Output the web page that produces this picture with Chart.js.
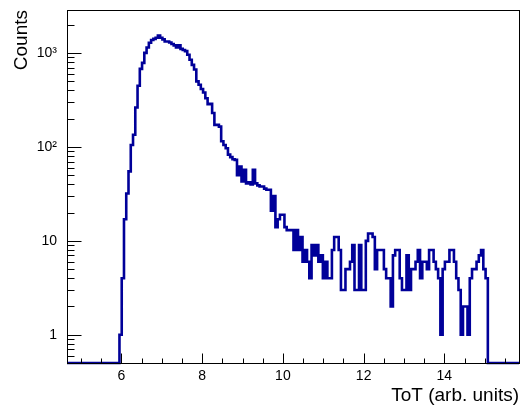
<!DOCTYPE html>
<html>
<head>
<meta charset="utf-8">
<script src="https://cdn.jsdelivr.net/npm/chart.js@4"></script>
<style>
    body { margin: 0; background: #fff; }
    #wrap { width: 526px; height: 408px; }
</style>
</head>
<body>
<div id="wrap"><canvas id="chart"></canvas></div>
<script>

// histogram binning (ToT, arb. units)
let binStart = 5.95
let binWidth = 0.056

// counts per bin
let counts = [
    1, 4, 17, 32, 55, 105, 135, 263, 450, 680,
    787, 1007, 1150, 1290, 1380, 1420, 1460, 1540, 1460, 1400,
    1330, 1330, 1300, 1250, 1210, 1150, 1210, 1110, 1080, 1050,
    960, 850, 750, 670, 500, 460, 415, 380, 330, 285,
    288, 230, 172, 172, 165, 115, 105, 97, 83, 78,
    74, 73, 50, 62, 43, 57, 41, 42, 40, 57,
    41, 39, 38, 38, 36, 35, 35, 21, 30, 14,
    17, 19, 19, 14, 13, 13, 13, 8, 13, 8,
    11, 6, 8, 6, 4, 9, 7, 9, 6, 7,
    4, 6, 4, 4, 8, 11, 11, 8, 3, 3,
    5, 5, 6, 9, 3, 3, 9, 3, 3, 10,
    12, 12, 11, 5, 8, 8, 8, 5, 4, 4,
    2, 7,
    8, 8, 4, 3, 3, 7, 3, 5, 5, 6,
    8, 4, 6, 6, 5, 8, 8, 6, 5, 4,
    1, 5, 6, 6, 8, 8, 6, 4, 3, 1,
    2, 2, 1, 4, 5, 5, 6, 7, 8, 5,
    4
]

let xRange = [4.65, 15.85]
let yRange = [0.5, 2880]

let xTicks = [6, 8, 10, 12, 14]
let xTickLabels = ['6', '8', '10', '12', '14']
let yTicks = [1, 10, 100, 1000]
let yTickLabels = ['1', '10', '10²', '10³']

let xTitle = 'ToT (arb. units)'
let yTitle = 'Counts'

let lineColor = '#000099'
let fontFamily = "'Liberation Sans', Arial, sans-serif"


// outline like ROOT: empty bins sit on the bottom of the frame
let pts = [{ x: xRange[0], y: yRange[0] }]
counts.forEach((c, i) => {
    pts.push({ x: binStart + i * binWidth, y: c > 0 ? c : yRange[0] })
})
pts.push({ x: binStart + counts.length * binWidth, y: yRange[0] })
pts.push({ x: xRange[1], y: yRange[0] })


// frame + inward ticks (major and minor)
const rootFrame = {
    id: 'rootFrame',
    afterDatasetsDraw(chart) {
        const { ctx, chartArea: a, scales } = chart
        const sx = scales.x, sy = scales.y
        const bottom = Math.round(a.bottom) + 0.5
        const left = Math.round(a.left) + 0.5

        ctx.save()
        ctx.strokeStyle = '#000'
        ctx.lineWidth = 1
        ctx.beginPath()

        // x ticks every 0.5, major every 2
        for (let k = Math.ceil(xRange[0] * 2); k <= xRange[1] * 2; k++) {
            let v = k / 2
            let px = Math.round(sx.getPixelForValue(v)) + 0.5
            let len = (k % 4 === 0) ? 10 : 5
            ctx.moveTo(px, bottom)
            ctx.lineTo(px, bottom - len)
        }

        // y ticks: decades major, 2..9 minor
        for (let d = -1; d <= 3; d++) {
            for (let m = 1; m <= 9; m++) {
                let v = m * Math.pow(10, d)
                if (v < yRange[0] || v > yRange[1]) continue
                let py = Math.round(sy.getPixelForValue(v)) + 0.5
                let len = (m === 1) ? 14 : 7
                ctx.moveTo(left, py)
                ctx.lineTo(left + len, py)
            }
        }
        ctx.stroke()

        ctx.strokeRect(left, Math.round(a.top) + 0.5,
            Math.round(a.right) - Math.round(a.left), Math.round(a.bottom) - Math.round(a.top))
        ctx.restore()
    }
}


const ctx = document.getElementById('chart').getContext('2d')
const histChart = new Chart(ctx, {
    type: 'line',
    data: {
        datasets: [{
            data: pts,
            stepped: true,
            borderColor: lineColor,
            borderWidth: 2.6,
            borderJoinStyle: 'miter',
            pointRadius: 0,
            fill: false,
            clip: false
        }]
    },
    options: {
        responsive: true,
        maintainAspectRatio: false,
        animation: false,
        layout: {
            padding: { top: 10, right: 7, left: 0, bottom: 0 }
        },
        scales: {
            x: {
                type: 'linear',
                min: xRange[0],
                max: xRange[1],
                afterBuildTicks: s => { s.ticks = xTicks.map(v => ({ value: v })) },
                afterFit: s => { s.height = 45; s.paddingLeft = 0; s.paddingRight = 0 },
                grid: { display: false, drawTicks: false },
                border: { display: false },
                ticks: {
                    autoSkip: false,
                    maxRotation: 0,
                    padding: 5,
                    color: '#000',
                    font: { family: fontFamily, size: 14 },
                    callback: (v, i) => xTickLabels[i]
                },
                title: {
                    display: true,
                    text: xTitle,
                    align: 'end',
                    color: '#000',
                    font: { family: fontFamily, size: 19 },
                    padding: { top: 0, bottom: 1 }
                }
            },
            y: {
                type: 'logarithmic',
                min: yRange[0],
                max: yRange[1],
                afterBuildTicks: s => { s.ticks = yTicks.map(v => ({ value: v })) },
                afterFit: s => { s.width = 67; s.paddingTop = 0; s.paddingBottom = 0 },
                grid: { display: false, drawTicks: false },
                border: { display: false },
                ticks: {
                    autoSkip: false,
                    padding: 10,
                    color: '#000',
                    font: { family: fontFamily, size: 14 },
                    callback: (v, i) => yTickLabels[i]
                },
                title: {
                    display: true,
                    text: yTitle,
                    align: 'end',
                    color: '#000',
                    font: { family: fontFamily, size: 19 },
                    padding: { top: 10, bottom: 0 }
                }
            }
        },
        plugins: {
            legend: { display: false },
            tooltip: { enabled: false }
        }
    },
    plugins: [rootFrame]
})

</script>
</body>
</html>
